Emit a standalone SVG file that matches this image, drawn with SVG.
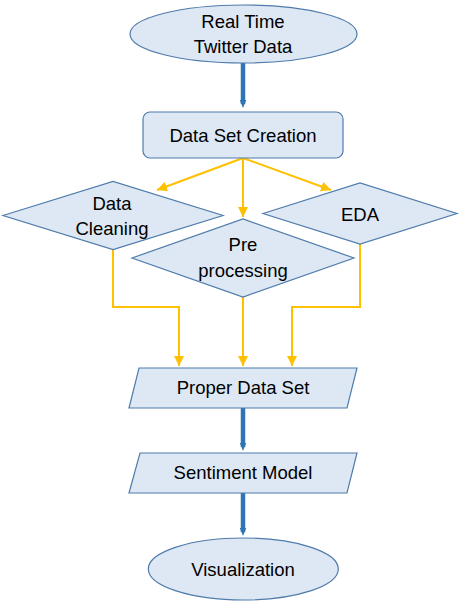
<svg xmlns="http://www.w3.org/2000/svg" width="463" height="606" viewBox="0 0 463 606">
<style>
.n{fill:#dde8f4;stroke:#4f7bab;stroke-width:1.2}
.t{font-family:"Liberation Sans",Arial,sans-serif;font-size:18.5px;fill:#000;text-anchor:middle}
.b{stroke:#2e75b6;stroke-width:4.5;fill:none}
.y{stroke:#ffc000;stroke-width:2;fill:none}
</style>
<defs>
<marker id="ab" markerWidth="8" markerHeight="8" refX="2.5" refY="2" orient="auto" markerUnits="userSpaceOnUse" viewBox="0 0 5 4">
<path d="M0,0 L5,2 L0,4 z" fill="#2e75b6"/>
</marker>
<marker id="ay" markerWidth="10" markerHeight="10" refX="10" refY="5" orient="auto" markerUnits="userSpaceOnUse" viewBox="0 0 10 10">
<path d="M0,0 L10,5 L0,10 z" fill="#ffc000"/>
</marker>
</defs>
<g id="connectors">
<line class="b" x1="243" y1="63" x2="243" y2="104" marker-end="url(#ab)"/>
<line class="y" x1="243" y1="158" x2="157" y2="190" marker-end="url(#ay)"/>
<line class="y" x1="243" y1="158" x2="243" y2="217" marker-end="url(#ay)"/>
<line class="y" x1="243" y1="158" x2="331" y2="190" marker-end="url(#ay)"/>
<polyline class="y" points="113,249 113,307 179,307 179,366" marker-end="url(#ay)"/>
<line class="y" x1="243" y1="297" x2="243" y2="366" marker-end="url(#ay)"/>
<polyline class="y" points="360,244 360,307 292,307 292,366" marker-end="url(#ay)"/>
<line class="b" x1="243" y1="408" x2="243" y2="447" marker-end="url(#ab)"/>
<line class="b" x1="243" y1="493" x2="243" y2="532" marker-end="url(#ab)"/>
</g>
<g id="n1">
<ellipse class="n" cx="243.5" cy="34" rx="113.5" ry="29"/>
<text class="t" x="243" y="28">Real Time</text>
<text class="t" x="243" y="53">Twitter Data</text>
</g>
<g id="n2">
<rect class="n" x="143" y="112" width="200" height="46" rx="7"/>
<text class="t" x="243" y="142">Data Set Creation</text>
</g>
<g id="n3">
<polygon class="n" points="3,215.5 113,181.5 223,215.5 113,249.5"/>
<text class="t" x="112" y="210">Data</text>
<text class="t" x="112" y="235">Cleaning</text>
</g>
<g id="n5">
<polygon class="n" points="263,213.5 360,183 457,213.5 360,244"/>
<text class="t" x="360" y="221">EDA</text>
</g>
<g id="n4">
<polygon class="n" points="132,258 243,219 354,258 243,297"/>
<text class="t" x="243" y="251">Pre</text>
<text class="t" x="243" y="277">processing</text>
</g>
<g id="n6">
<polygon class="n" points="139,368 357,368 347,408 129,408"/>
<text class="t" x="243" y="394">Proper Data Set</text>
</g>
<g id="n7">
<polygon class="n" points="140,453 357,453 347,493 129,493"/>
<text class="t" x="243" y="479">Sentiment Model</text>
</g>
<g id="n8">
<ellipse class="n" cx="243.3" cy="569" rx="95" ry="31"/>
<text class="t" x="243" y="576">Visualization</text>
</g>
</svg>
